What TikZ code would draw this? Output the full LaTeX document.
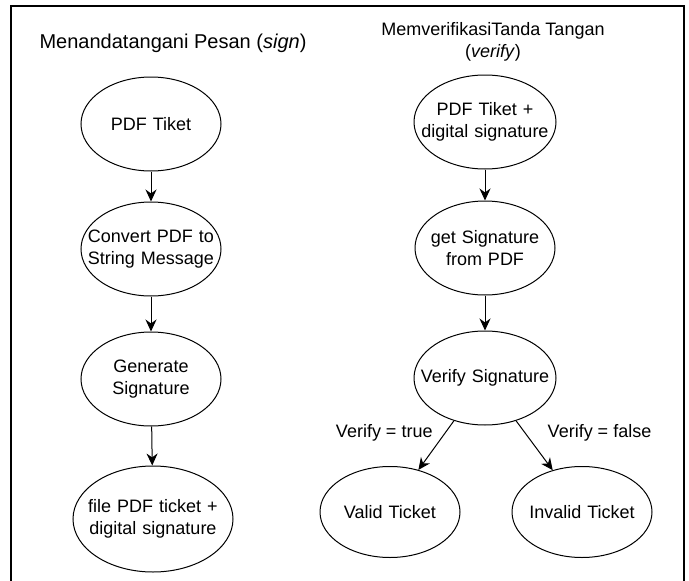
\documentclass[tikz,border=0pt]{standalone}
\usepackage{fontspec}
\setmainfont{Liberation Sans}
\usetikzlibrary{shapes,arrows.meta,positioning}

\begin{document}
\begin{tikzpicture}[x=1pt, y=-1pt, every node/.style={font=\fontsize{18}{22.5}\selectfont},
  proc/.style={draw, ellipse, line width=1pt, text width=150pt, align=center, inner xsep=-50pt, inner ysep=0pt, minimum width=140pt, minimum height=94pt},
  flow/.style={line width=1pt, -{Stealth[length=12pt, width=11pt]}},
  cond/.style={inner sep=2pt}]
\useasboundingbox (0,0) rectangle (689,581);
\draw[line width=1.6pt] (11,6) rectangle (684,640);

% judul
\node[font=\fontsize{20}{24}\selectfont] (signtitle) at (173,43) {Menandatangani Pesan (\textit{sign})};
\node[align=center] (verifytitle) at (493,42) {MemverifikasiTanda Tangan\\(\textit{verify})};

% sign
\node[proc] (pdf) at (151,124) {PDF Tiket};
\node[proc] (convert) [below=30pt of pdf] {Convert PDF to\\String Message};
\node[proc] (generate) [below=35pt of convert] {Generate\\Signature};
\node[proc, minimum width=160pt, minimum height=106pt] (signedpdf) [below=39pt of generate, xshift=2pt] {file PDF ticket +\\digital signature};

% verify
\node[proc, minimum width=142pt] (pdfsig) at (485,122) {PDF Tiket +\\digital signature};
\node[proc] (getsig) [below=31pt of pdfsig] {get Signature\\from PDF};
\node[proc, minimum width=142pt] (verify) [below=35pt of getsig] {Verify Signature};
\node[proc, minimum height=91pt] (valid) at (390,512) {Valid Ticket};
\node[proc, minimum height=91pt] (invalid) at (582,512) {Invalid Ticket};

\draw[flow] (pdf) -- (convert);
\draw[flow] (convert) -- (generate);
\draw[flow] (generate) -- (signedpdf);
\draw[flow] (pdfsig) -- (getsig);
\draw[flow] (getsig) -- (verify);
\draw[flow] (verify.-126) -- node[cond, pos=0.25, left=10pt] {Verify = true} (valid.56);
\draw[flow] (verify.-54) -- node[cond, pos=0.25, right=20pt] {Verify = false} (invalid.125);
\end{tikzpicture}
\end{document}
